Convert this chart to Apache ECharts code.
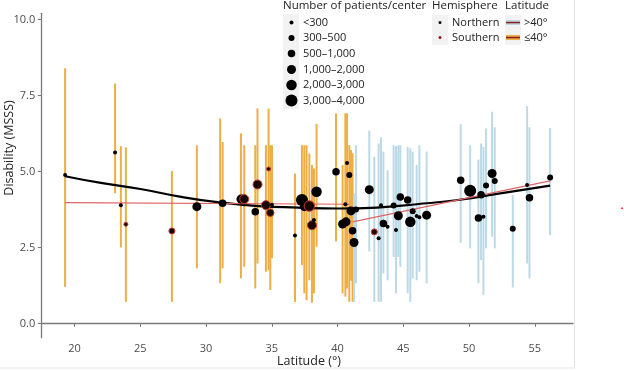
<!DOCTYPE html>
<html>
<head>
<meta charset="utf-8">
<script src="https://cdn.jsdelivr.net/npm/echarts@6/dist/echarts.min.js"></script>
<style>html,body{margin:0;padding:0;background:#fff;}#c{width:624px;height:370px;}</style>
</head>
<body>
<div id="c"></div>
<script>
// ---- data ----
const latitude = [19.28,23.08,23.52,23.90,27.40,29.30,31.07,31.26,32.65,32.90,33.74,33.91,34.55,34.75,34.88,35.01,36.76,37.29,37.47,37.64,37.85,38.05,38.20,38.40,39.88,40.38,40.59,40.64,40.72,40.89,41.02,41.14,41.25,41.40,42.41,42.79,43.12,43.30,43.48,43.80,44.26,44.44,44.62,44.77,45.33,45.53,45.71,46.01,46.22,46.77,49.36,50.08,50.71,50.91,51.09,51.29,51.75,51.95,53.32,54.41,54.59,56.16];
const msss = [4.88,5.62,3.89,3.26,3.04,3.84,3.97,3.95,4.09,4.09,3.67,4.57,3.89,5.08,3.64,3.90,2.89,4.06,3.84,3.90,3.86,3.23,3.40,4.33,4.99,3.27,3.92,3.34,5.28,4.88,3.70,3.05,2.66,3.75,4.40,3.01,2.80,3.89,3.29,3.18,3.88,3.07,3.54,4.16,4.06,3.34,3.69,3.53,3.49,3.56,4.71,4.36,3.47,4.23,3.51,4.54,4.93,4.68,3.11,4.55,4.13,4.80];
const lower = [1.20,4.28,2.50,0.71,0.71,1.81,1.32,1.81,1.48,1.86,1.15,1.97,1.70,1.75,1.10,2.14,0.71,1.92,0.99,0.77,1.42,0.68,0.99,2.52,2.70,0.99,0.88,1.30,1.15,0.71,1.40,0.71,0.71,1.32,2.36,0.71,0.71,0.71,1.64,1.42,2.19,0.99,2.19,1.86,0.99,0.71,1.48,1.42,1.70,1.32,2.65,2.47,1.32,2.08,0.93,2.47,2.85,2.47,1.18,1.97,1.48,2.90];
const upper = [8.39,7.89,5.83,5.79,5.01,5.86,6.74,5.97,6.25,5.86,5.86,7.07,5.86,7.07,5.86,5.86,4.93,5.86,5.86,5.86,5.59,5.21,5.10,6.56,6.91,5.21,6.91,5.50,6.91,5.86,5.70,5.60,4.28,5.86,6.34,5.48,5.92,6.12,5.65,5.04,5.86,5.83,5.86,5.86,5.81,5.76,5.65,5.21,5.86,5.65,6.55,5.86,5.39,5.92,5.81,6.41,6.96,6.45,4.22,7.15,6.45,6.43];
// size class index into sizeLabels
const sizeClass = [0,0,0,0,1,3,0,2,3,3,2,3,3,0,2,0,0,5,3,0,4,3,0,4,2,3,0,3,0,1,3,2,3,1,3,1,0,0,2,0,1,0,3,2,2,4,1,0,0,3,2,5,2,2,0,1,3,1,1,0,2,1];
// hemisphere: N / S
const hemisphere = ['N','N','N','S','S','N','N','N','N','S','N','S','S','S','S','N','N','N','N','N','S','S','N','N','N','N','N','N','N','N','N','N','N','N','N','S','N','N','N','N','N','N','N','N','N','N','N','N','N','N','N','N','N','N','N','N','N','N','N','N','N','N'];
// latitude band of error bar: O = <=40 (orange), B = >40 (blue)
const band = ['O','O','O','O','O','O','O','O','O','O','O','O','O','O','O','O','O','O','O','O','O','O','O','O','O','O','O','O','O','O','O','O','B','B','B','B','B','B','B','B','B','B','B','B','B','B','B','B','B','B','B','B','B','B','B','B','B','B','B','B','B','B'];
// quadratic fit (black)
const fitLat = [19.28,22,25,28,31,34,37,40,43,46,49,52,56.16];
const fitVal = [4.84,4.62,4.42,4.17,3.98,3.86,3.81,3.78,3.81,3.92,4.05,4.25,4.53];
// linear fits (red) by band
const redLowLat = [19.28,40.9];
const redLowVal = [3.97,3.92];
const redHighLat = [41.14,56.16];
const redHighVal = [3.34,4.69];
const sizeLabels = ['<300','300\u2013500','500\u20131,000','1,000\u20132,000','2,000\u20133,000','3,000\u20134,000'];
const xTicks = [20,25,30,35,40,45,50,55];
const yTicks = [0,2.5,5,7.5,10];

// ---- styles ----
const sizePx = [4,6,7.5,9,10.5,12];
const bandColor = {O:'#EDAE45', B:'#BDD9E6'};
const FONT = '"Open Sans", "Noto Sans", sans-serif';
const TXT = '#4d4d4d';

const barData = latitude.map((x,i)=>[x, lower[i], upper[i], band[i]==='O'?0:1]);
const pointData = latitude.map((x,i)=>({
  value:[x, msss[i]],
  symbolSize: sizePx[sizeClass[i]],
  itemStyle: hemisphere[i]==='S'
    ? {color:'#1a0505', borderColor:'#c0392b', borderWidth:1, opacity:1}
    : {color:'#000', borderColor:'#000', borderWidth:0, opacity:1}
}));

const chart = echarts.init(document.getElementById('c'), null, {renderer:'canvas'});

const legendGraphics = [];
function txt(x,y,s,size,align){
  legendGraphics.push({type:'text', x:x, y:y, style:{text:s, font:size+'px '+FONT, fill:'#222', textAlign:align||'left', textVerticalAlign:'middle'}, z:100});
}
function rect(x,y,w,h,fill){
  legendGraphics.push({type:'rect', shape:{x:x,y:y,width:w,height:h}, style:{fill:fill}, z:99});
}
// size legend
txt(283,6,'Number of patients/center',11.5);
rect(283,14,16,95,'#f2f2f2');
const rowY = [22.5,38,53.5,69.5,85,100.5];
sizeLabels.forEach((s,i)=>{
  legendGraphics.push({type:'circle', shape:{cx:291.5, cy:rowY[i], r:sizePx[i]/2}, style:{fill:'#000'}, z:100});
  txt(303,rowY[i],s,11);
});
// hemisphere legend
txt(432,6,'Hemisphere',11.5);
rect(432,15,16,30,'#f2f2f2');
legendGraphics.push({type:'circle', shape:{cx:440, cy:22.5, r:1.5}, style:{fill:'#000'}, z:100});
legendGraphics.push({type:'circle', shape:{cx:440, cy:37.5, r:1.5}, style:{fill:'#8b1a1a'}, z:100});
txt(452,22.5,'Northern',11);
txt(452,37.5,'Southern',11);
// latitude legend
txt(505,6,'Latitude',11.5);
rect(505,15,16,30,'#f2f2f2');
rect(506,20,14,5,bandColor.B);
rect(506,35,14,5,bandColor.O);
rect(506,21.8,14,1.5,'#8b1a1a');
rect(506,36.8,14,1.5,'#8b1a1a');
txt(524,22.5,'>40\u00b0',11);
txt(524,37.5,'\u226440\u00b0',11);
// axis titles
legendGraphics.push({type:'text', x:9, y:148, rotation:Math.PI/2, style:{text:'Disability (MSSS)', font:'12.5px '+FONT, fill:'#222', textAlign:'center', textVerticalAlign:'middle'}, z:100});
legendGraphics.push({type:'text', x:309, y:361, style:{text:'Latitude (\u00b0)', font:'12.5px '+FONT, fill:'#222', textAlign:'center', textVerticalAlign:'middle'}, z:100});
// screenshot frame lines and stray mark
rect(574,0,1,368,'#e3e3e3');
rect(0,367.5,575,1,'#e3e3e3');
rect(621,207.5,2,1.5,'#e8413a');

chart.setOption({
  animation:false,
  backgroundColor:'#fff',
  grid:{left:41.3, right:51, top:13.3, bottom:32.3},
  xAxis:{
    type:'value', min:17.47, max:57.9,
    splitLine:{show:false},
    axisLine:{show:true, lineStyle:{color:'#7a7a7a', width:1.3}},
    axisTick:{show:true, length:3.5, customValues:xTicks, lineStyle:{color:'#7a7a7a'}},
    axisLabel:{customValues:xTicks, color:TXT, fontSize:11, fontFamily:FONT, margin:6}
  },
  yAxis:{
    type:'value', min:-0.47, max:10.2,
    splitLine:{show:false},
    axisLine:{show:true, onZero:false, lineStyle:{color:'#7a7a7a', width:1.3}},
    axisTick:{show:true, length:3.5, customValues:yTicks, lineStyle:{color:'#7a7a7a'}},
    axisLabel:{customValues:yTicks, color:TXT, fontSize:11, fontFamily:FONT, margin:6,
      formatter:v=>v.toFixed(1)}
  },
  graphic: legendGraphics,
  series:[
    {
      type:'custom', data:barData, encode:{x:0, y:[1,2]}, z:1,
      renderItem:(params, api)=>{
        const x = api.value(0);
        const p1 = api.coord([x, api.value(1)]);
        const p2 = api.coord([x, api.value(2)]);
        return {type:'line', shape:{x1:p1[0], y1:p1[1], x2:p2[0], y2:p2[1]},
          style:{stroke: api.value(3)===0 ? bandColor.O : bandColor.B, lineWidth:2}};
      }
    },
    {type:'line', data:fitLat.map((x,i)=>[x,fitVal[i]]), smooth:true, showSymbol:false, z:3,
      lineStyle:{color:'#000', width:2.2}},
    {type:'line', data:redLowLat.map((x,i)=>[x,redLowVal[i]]), showSymbol:false, z:4,
      lineStyle:{color:'#e06464', width:1.2}},
    {type:'line', data:redHighLat.map((x,i)=>[x,redHighVal[i]]), showSymbol:false, z:4,
      lineStyle:{color:'#e06464', width:1.2}},
    {type:'scatter', data:pointData, z:5, itemStyle:{opacity:1}}
  ]
});
</script>
</body>
</html>
